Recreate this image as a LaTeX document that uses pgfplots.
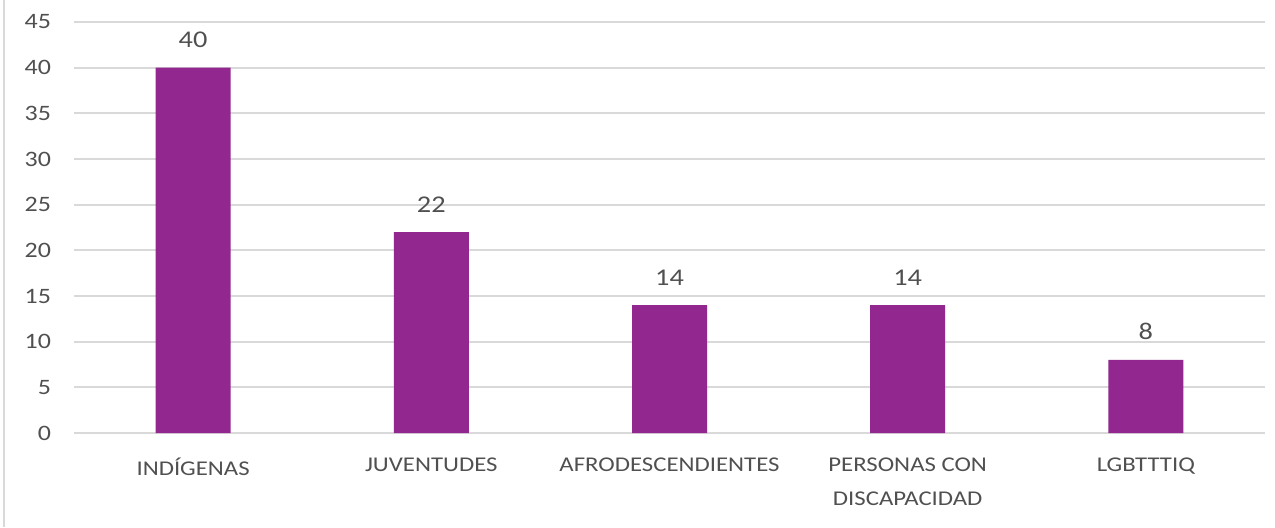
\documentclass[border=0pt]{standalone}
\usepackage{pgfplots}
\pgfplotsset{compat=1.18}
\usepackage{fontspec}
\setmainfont{Carlito}[FakeStretch=1.18]
\definecolor{barpurple}{HTML}{92278F}
\definecolor{gridgray}{HTML}{D9D9D9}
\definecolor{txtgray}{HTML}{505050}

\begin{document}
\begin{tikzpicture}
\useasboundingbox (0pt,0pt) rectangle (637.5pt,263.5pt);
\draw[color=gridgray, line width=1.2pt] (2pt,0pt) -- (2pt,263.5pt);
\begin{axis}[
    at={(37pt,47pt)}, anchor=south west,
    scale only axis,
    width=595.5pt, height=205.5pt,
    xmin=-0.5, xmax=4.5,
    ymin=0, ymax=45,
    ytick={0,5,...,45},
    xtick=data,
    xticklabels={INDÍGENAS, JUVENTUDES, AFRODESCENDIENTES, {PERSONAS CON\\DISCAPACIDAD}, LGBTTTIQ},
    axis line style={draw=none},
    major tick length=0pt,
    ymajorgrids=true,
    grid style={gridgray, line width=1pt},
    /pgf/number format/assume math mode=true,
    yticklabel style={font=\fontsize{11}{13}\selectfont, text=txtgray, xshift=-8pt},
    xticklabel style={font=\fontsize{10.5}{17}\selectfont, text=txtgray, align=center, anchor=north, yshift=-9pt},
    nodes near coords,
    nodes near coords style={font=\fontsize{12}{14}\selectfont, text=txtgray, anchor=south, yshift=6.5pt},
    clip=false,
]
\addplot[ybar, bar width=37.5pt, fill=barpurple, draw=none]
    coordinates {(0,40) (1,22) (2,14) (3,14) (4,8)};
\end{axis}
\end{tikzpicture}
\end{document}
